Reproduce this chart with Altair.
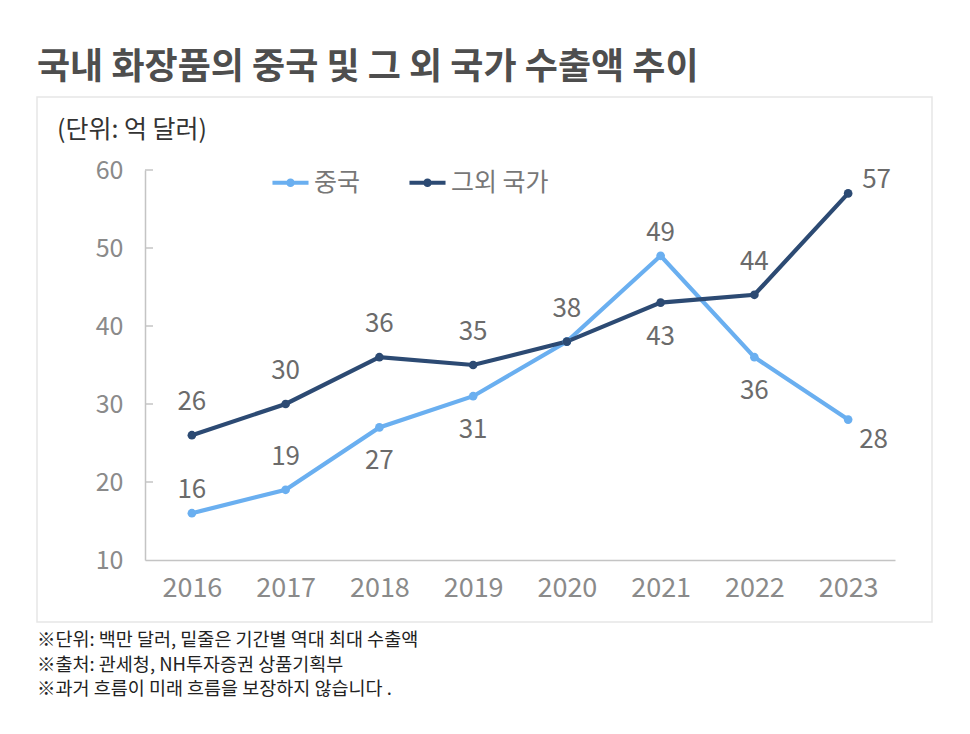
import altair as alt
import pandas as pd

# Cosmetics exports: China vs. all other countries (unit: 100 million USD)
years = ["2016", "2017", "2018", "2019", "2020", "2021", "2022", "2023"]
china = [16, 19, 27, 31, 38, 49, 36, 28]
others = [26, 30, 36, 35, 38, 43, 44, 57]
series_names = ["중국", "그외 국가"]

# where each value label sits relative to its point ("none" = not drawn)
china_label_side = ["near", "above", "below", "below", "above", "near", "below", "right_low"]
others_label_side = ["above", "above", "above", "above", "none", "below", "above", "right_high"]

y_ticks = [10, 20, 30, 40, 50, 60]

FONT = "Noto Sans CJK KR"
COLORS = ["#6aaff0", "#2c4a73"]

rows = []
for name, vals, sides in [(series_names[0], china, china_label_side),
                          (series_names[1], others, others_label_side)]:
    for yr, v, s in zip(years, vals, sides):
        rows.append({"series": name, "year": yr, "value": v, "side": s})
df = pd.DataFrame(rows)

W, H = 750, 390
PAD_L, PAD_T = 145, 170

# legend glyph: a line with a dot in the middle
LINE_DOT = "M-1,0H1M-0.13,0A0.13,0.13,0,1,0,0.13,0A0.13,0.13,0,1,0,-0.13,0"

x_enc = alt.X("year:N", sort=years, scale=alt.Scale(paddingInner=0, paddingOuter=0.5),
              axis=alt.Axis(title=None, labelAngle=0, labelFont=FONT, labelFontSize=27,
                            labelColor="#8a8a8a", labelPadding=15, ticks=False,
                            domainColor="#c4c4c4", domainWidth=1.5, zindex=1))
y_enc = alt.Y("value:Q", scale=alt.Scale(domain=[10, 60], nice=False, zero=False),
              axis=alt.Axis(title=None, values=y_ticks, grid=False, ticks=False,
                            labelFont=FONT, labelFontSize=25, labelColor="#8a8a8a",
                            labelPadding=22, domainColor="#c4c4c4", domainWidth=1.5,
                            zindex=1))
color_enc = alt.Color("series:N", sort=series_names,
                      scale=alt.Scale(domain=series_names, range=COLORS),
                      legend=alt.Legend(title=None, orient="none", direction="horizontal",
                                        legendX=125, legendY=-8,
                                        symbolType=LINE_DOT, symbolSize=1300,
                                        symbolStrokeWidth=4, labelFont=FONT,
                                        labelFontSize=25, labelColor="#777777",
                                        labelOffset=3, columnPadding=40))

base = alt.Chart(df)
one = base.transform_filter("datum.year == '2016' && datum.series == '중국'")

# light outer frame around the plot block
frame = one.mark_rect(filled=False, stroke="#e6e6e6", strokeWidth=1.5).encode(
    x=alt.value(-108), x2=alt.value(787), y=alt.value(-73), y2=alt.value(452)
)

# short inward tick marks on the value axis
tick_df = pd.DataFrame({"v": y_ticks[1:]})
ticks = alt.Chart(tick_df).mark_rule(color="#c4c4c4", strokeWidth=1.5).encode(
    y=alt.Y("v:Q", scale=alt.Scale(domain=[10, 60], nice=False, zero=False)),
    x=alt.value(0), x2=alt.value(8)
)

lines = base.mark_line(strokeWidth=4.2).encode(x=x_enc, y=y_enc, color=color_enc)
points = base.mark_point(filled=True, size=75, opacity=1).encode(
    x=x_enc, y=y_enc,
    color=alt.Color("series:N", scale=alt.Scale(domain=series_names, range=COLORS), legend=None)
)

label_style = dict(font=FONT, fontSize=26, color="#6b6b6b", baseline="middle")
offsets = {
    "above": dict(dy=-33, align="center"),
    "near": dict(dy=-23, align="center"),
    "below": dict(dy=34, align="center"),
    "right_low": dict(dx=11, dy=20, align="left"),
    "right_high": dict(dx=14, dy=-13, align="left"),
}
label_layers = []
for side, off in offsets.items():
    label_layers.append(
        base.mark_text(**label_style, **off).encode(
            x=alt.X("year:N", sort=years), y=alt.Y("value:Q"), text=alt.Text("value:Q")
        ).transform_filter(alt.datum.side == side)
    )

title = one.mark_text(text="국내 화장품의 중국 및 그 외 국가 수출액 추이", font=FONT,
                      fontSize=36, fontWeight="bold", color="#4e4e4e",
                      align="left", baseline="middle").encode(
    x=alt.value(-108), y=alt.value(-102))
unit = one.mark_text(text="(단위: 억 달러)", font=FONT, fontSize=25, color="#333333",
                     align="left", baseline="middle").encode(
    x=alt.value(-88), y=alt.value(-40))

notes = [
    "※단위: 백만 달러, 밑줄은 기간별 역대 최대 수출액",
    "※출처: 관세청, NH투자증권 상품기획부",
    "※과거 흐름이 미래 흐름을 보장하지 않습니다 .",
]
note_layers = [
    one.mark_text(text=t, font=FONT, fontSize=18.5, color="#222222",
                  align="left", baseline="middle").encode(
        x=alt.value(-108), y=alt.value(470 + 24.5 * i))
    for i, t in enumerate(notes)
]

chart = alt.layer(
    frame, ticks, lines, points, *label_layers, title, unit, *note_layers
).properties(
    width=W, height=H,
    background="white",
    padding={"left": PAD_L, "top": PAD_T, "right": 970 - PAD_L - W, "bottom": 734 - PAD_T - H},
    autosize=alt.AutoSizeParams(type="none"),
).configure_view(strokeWidth=0, stroke="transparent")

chart.save("out.html", embed_options={"renderer": "svg", "actions": False})
